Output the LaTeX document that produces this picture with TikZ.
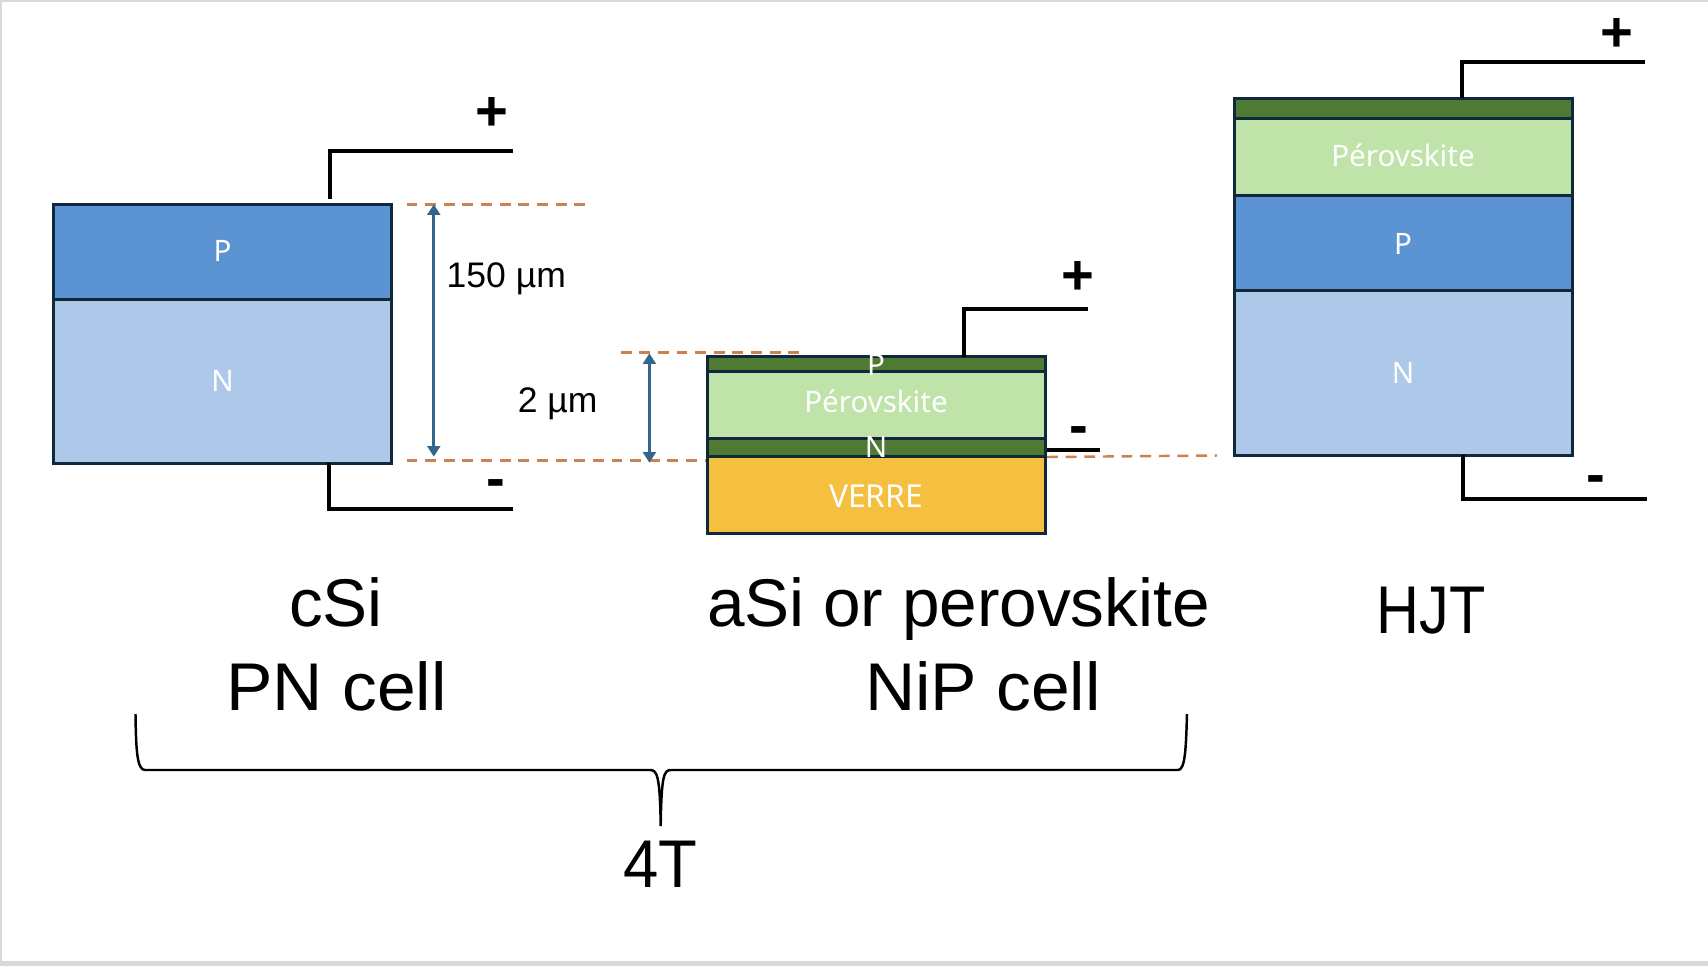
\documentclass[tikz,border=0pt]{standalone}
\usepackage{fontspec}
\setmainfont{Liberation Sans}
\newfontfamily\cellfont{Noto Sans}
\usetikzlibrary{arrows.meta}
\definecolor{frameGray}{HTML}{D9D9D9}
\definecolor{edgeNavy}{HTML}{10283C}
\definecolor{blueP}{HTML}{5C94D3}
\definecolor{blueN}{HTML}{ADC8E8}
\definecolor{greenDark}{HTML}{4F7A33}
\definecolor{greenPale}{HTML}{BFE3A9}
\definecolor{glassYellow}{HTML}{F5BF40}
\definecolor{dashOrange}{HTML}{CC8250}
\definecolor{arrowBlue}{HTML}{33668C}
\tikzset{
	layer/.style={draw=edgeNavy, line width=0.85pt, rectangle, inner sep=0pt},
	celltext/.style={text=white, font=\cellfont\fontsize{8.4}{9}\selectfont, inner sep=0pt},
	wire/.style={draw=black, line width=1.1pt},
	level/.style={draw=dashOrange, line width=0.7pt, dash pattern=on 3.1pt off 2.2pt},
	thick arrow/.style={draw=arrowBlue, line width=0.8pt, {Triangle[length=3pt,width=3.6pt]}-{Triangle[length=3pt,width=3.6pt]}},
	dim/.style={font=\fontsize{10.1}{12}\selectfont, inner sep=0pt},
	pole/.style={font=\bfseries\fontsize{16}{18}\selectfont, inner sep=0pt},
	title/.style={font=\fontsize{19.2}{22}\selectfont, inner sep=0pt, anchor=base}
}

\begin{document}
\begin{tikzpicture}[x=0.01cm, y=-0.01cm]
	%%%%% frame %%%%%
	\fill[frameGray] (0, 0) rectangle (1708, 966);
	\fill[white] (2, 2) rectangle (1708, 961);
	\useasboundingbox (0, 0) rectangle (1708, 966);
	
	%%%%% level lines %%%%%
	\coordinate (levelA1) at (406.5, 204.3);
	\coordinate (levelA2) at (585, 204.3);
	\coordinate (levelB1) at (406.5, 460.3);
	\coordinate (levelB2) at (707, 460.3);
	\coordinate (levelC1) at (620.6, 352.3);
	\coordinate (levelC2) at (799.7, 352.3);
	\coordinate (levelD1) at (1047, 457);
	\coordinate (levelD2) at (1217, 455.5);
	\draw[level] (levelA1) -- (levelA2);
	\draw[level] (levelB1) -- (levelB2);
	\draw[level] (levelC1) -- (levelC2);
	\draw[level] (levelD1) -- (levelD2);
	
	%%%%% cSi cell %%%%%
	\node[layer, fill=blueN, minimum width=3.38cm, minimum height=1.64cm] (nCsi) at (222.5, 381.3) {};
	\node[layer, fill=blueP, minimum width=3.38cm, minimum height=0.95cm] (pCsi) at (222.5, 251.8) {};
	\node[celltext] (pCsiText) at (222.5, 251) {P};
	\node[celltext] (nCsiText) at (222.5, 381) {N};
	
	\coordinate (plusCsi) at (513, 150.7);
	\coordinate (topCsi) at (330, 199.3);
	\coordinate (minusCsi) at (513, 508.7);
	\coordinate (botCsi) at (329, 463.3);
	\draw[wire] (plusCsi) -| (topCsi);
	\draw[wire] (minusCsi) -| (botCsi);
	\node[pole] (plusCsiText) at (492, 114) {+};
	\node[pole] (minusCsiText) at (496, 489) {-};
	
	\coordinate (dimA1) at (433.8, 204.3);
	\coordinate (dimA2) at (433.8, 456.7);
	\draw[thick arrow] (dimA1) -- (dimA2);
	\node[dim] (dimAText) at (506.3, 278.5) {150 µm};
	
	\coordinate (dimB1) at (649.4, 353.3);
	\coordinate (dimB2) at (649.4, 462.7);
	\draw[thick arrow] (dimB1) -- (dimB2);
	\node[dim] (dimBText) at (557.7, 403.5) {2 µm};
	
	%%%%% NiP cell %%%%%
	\node[layer, fill=glassYellow, minimum width=3.38cm, minimum height=0.766cm] (glass) at (876.6, 495) {};
	\node[layer, fill=greenDark, minimum width=3.38cm, minimum height=0.184cm] (nNip) at (876.6, 447.5) {};
	\node[layer, fill=greenPale, minimum width=3.38cm, minimum height=0.67cm] (iNip) at (876.6, 404.8) {};
	\node[layer, fill=greenDark, minimum width=3.38cm, minimum height=0.146cm] (pNip) at (876.6, 364) {};
	\node[celltext] (pNipText) at (876, 364.5) {P};
	\node[celltext] (nNipText) at (876, 447) {N};
	\node[celltext] (iNipText) at (876, 401) {Pérovskite};
	\node[celltext, font=\cellfont\fontsize{9}{10}\selectfont] (glassText) at (876, 495.7) {VERRE};
	
	\coordinate (plusNip) at (1088.3, 308.7);
	\coordinate (topNip) at (964.2, 356.7);
	\coordinate (minusNip) at (1100, 450);
	\draw[wire] (plusNip) -| (topNip);
	\draw[wire] (minusNip) -- (minusNip -| nNip.east);
	\node[pole] (plusNipText) at (1077.7, 277.5) {+};
	\node[pole] (minusNipText) at (1078.8, 436) {-};
	
	%%%%% HJT cell %%%%%
	\node[layer, fill=blueN, minimum width=3.386cm, minimum height=1.65cm] (nHjt) at (1403.5, 372.9) {};
	\node[layer, fill=blueP, minimum width=3.386cm, minimum height=0.955cm] (pHjt) at (1403.5, 242.9) {};
	\node[layer, fill=greenPale, minimum width=3.386cm, minimum height=0.767cm] (iHjt) at (1403.5, 156.7) {};
	\node[layer, fill=greenDark, minimum width=3.386cm, minimum height=0.2cm] (topHjt) at (1403.5, 108.3) {};
	\node[celltext] (iHjtText) at (1403, 155.5) {Pérovskite};
	\node[celltext] (pHjtText) at (1403, 243.7) {P};
	\node[celltext] (nHjtText) at (1403, 372.9) {N};
	
	\coordinate (plusHjt) at (1645, 61.9);
	\coordinate (topEnd) at (1462, 98.4);
	\coordinate (minusHjt) at (1646.7, 498.6);
	\coordinate (botEnd) at (1462.7, 455.3);
	\draw[wire] (plusHjt) -| (topEnd);
	\draw[wire] (minusHjt) -| (botEnd);
	\node[pole] (plusHjtText) at (1616.7, 34.5) {+};
	\node[pole] (minusHjtText) at (1595.7, 484.5) {-};
	
	%%%%% titles %%%%%
	\node[title] (csiText) at (336, 626.7) {cSi};
	\node[title] (pnText) at (336.7, 710) {\scalebox{1.03}[1]{PN cell}};
	\node[title] (asiText) at (958.5, 626.7) {aSi or perovskite};
	\node[title] (nipText) at (983, 710) {\scalebox{1.03}[1]{NiP cell}};
	\node[title] (hjtText) at (1431, 633) {\scalebox{0.88}[1]{HJT}};
	\node[title] (fourText) at (660.7, 887) {\scalebox{0.94}[1]{4T}};
	
	%%%%% brace %%%%%
	\coordinate (braceL) at (135.5, 714);
	\coordinate (braceR) at (1187, 714);
	\coordinate (braceTip) at (660.7, 826);
	\draw[line width=0.7pt] (braceL) .. controls (136, 750) and (137, 770) .. (145, 770)
		-- (650, 770) .. controls (657, 770) and (660, 775) .. (braceTip)
		.. controls (661.4, 775) and (664, 770) .. (671, 770)
		-- (1178, 770) .. controls (1185, 770) and (1186, 750) .. (braceR);
\end{tikzpicture}
\end{document}
